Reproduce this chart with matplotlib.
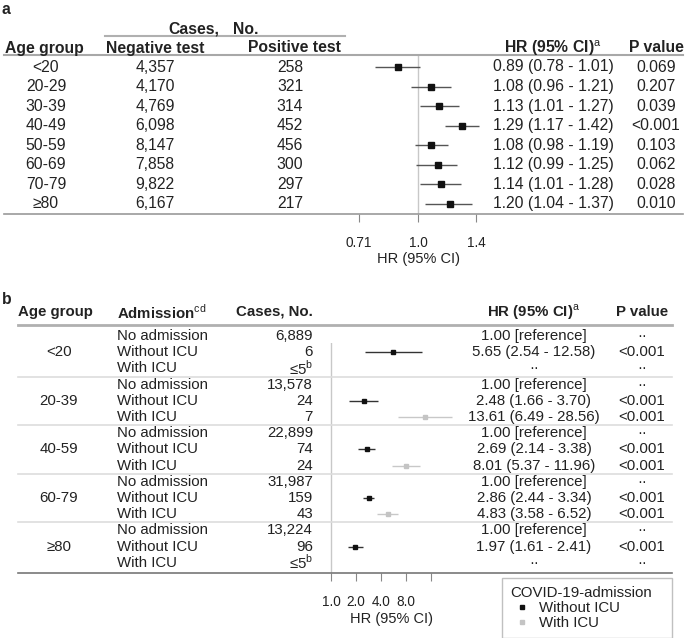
import matplotlib.pyplot as plt
import numpy as np
from matplotlib.lines import Line2D
from matplotlib.ticker import NullLocator

plt.rcParams['font.family'] = ['Liberation Sans', 'DejaVu Sans']
plt.rcParams['mathtext.fontset'] = 'custom'
plt.rcParams['mathtext.rm'] = 'Liberation Sans'

# Panel a data
ages_a = ['<20', '20-29', '30-39', '40-49', '50-59', '60-69', '70-79', '≥80']
neg_a = ['4,357', '4,170', '4,769', '6,098', '8,147', '7,858', '9,822', '6,167']
pos_a = ['258', '321', '314', '452', '456', '300', '297', '217']
hr_a = [0.89, 1.08, 1.13, 1.29, 1.08, 1.12, 1.14, 1.20]
lo_a = [0.78, 0.96, 1.01, 1.17, 0.98, 0.99, 1.01, 1.04]
hi_a = [1.01, 1.21, 1.27, 1.42, 1.19, 1.25, 1.28, 1.37]
p_a = ['0.069', '0.207', '0.039', '<0.001', '0.103', '0.062', '0.028', '0.010']
ticks_a = [0.71, 1.0, 1.4]
ticklabels_a = ['0.71', '1.0', '1.4']

# Panel b data
groups_b = ['<20', '20-39', '40-59', '60-79', '≥80']
adm_types = ['No admission', 'Without ICU', 'With ICU']
cases_b = [['6,889', '6', '≤5$^{b}$'],
           ['13,578', '24', '7'],
           ['22,899', '74', '24'],
           ['31,987', '159', '43'],
           ['13,224', '96', '≤5$^{b}$']]
hr_wo = [5.65, 2.48, 2.69, 2.86, 1.97]
lo_wo = [2.54, 1.66, 2.14, 2.44, 1.61]
hi_wo = [12.58, 3.70, 3.38, 3.34, 2.41]
hr_w = [np.nan, 13.61, 8.01, 4.83, np.nan]
lo_w = [np.nan, 6.49, 5.37, 3.58, np.nan]
hi_w = [np.nan, 28.56, 11.96, 6.52, np.nan]
p_wo = ['<0.001', '<0.001', '<0.001', '<0.001', '<0.001']
p_w = ['··', '<0.001', '<0.001', '<0.001', '··']
ticks_b = [1, 2, 4, 8, 16]
ticklabels_b = ['1.0', '2.0', '4.0', '8.0', '']

W, H = 685, 638
fig = plt.figure(figsize=(W / 100, H / 100), dpi=100)
TXT = '#222222'
FS_A = 11.3
FS_B = 10.8


def fx(x):
    return x / W


def fy(y):
    return 1 - y / H


def put(x, y, s, ha='center', size=FS_A, **kw):
    fig.text(fx(x), fy(y), s, ha=ha, va='center', fontsize=size, color=TXT, **kw)


def hline(y, x0, x1, color, lw):
    fig.add_artist(Line2D([fx(x0), fx(x1)], [fy(y), fy(y)], color=color, lw=lw,
                          transform=fig.transFigure))


def fmt_hr(h, l, u):
    return f'{h:.2f} ({l:.2f} - {u:.2f})'


def forest_axes(x0, x1, y0, y1, x_ref, px_per_ln, row0, row_h):
    ax = fig.add_axes([fx(x0), fy(y1), fx(x1) - fx(x0), fy(y0) - fy(y1)])
    ax.set_xscale('log')
    ax.set_xlim(np.exp((x0 - x_ref) / px_per_ln), np.exp((x1 - x_ref) / px_per_ln))
    ax.set_ylim((y1 - row0) / row_h, (y0 - row0) / row_h)
    for s in ax.spines.values():
        s.set_visible(False)
    ax.set_facecolor('none')
    ax.yaxis.set_visible(False)
    ax.axvline(1.0, color='#c8c8c8', lw=1, zorder=0)
    return ax


# ---------------- panel a ----------------
put(2, 10, 'a', ha='left', weight='bold')
put(168, 29, 'Cases,', ha='left', weight='bold')
put(233, 29, 'No.', ha='left', weight='bold')
hline(36, 105, 345, '#b0b0b0', 1.5)
put(5, 48, 'Age group', ha='left', weight='bold')
put(155, 48, 'Negative test', weight='bold')
put(294, 48, 'Positive test', weight='bold')
put(553, 48, r'HR (95% CI)$^{\mathrm{a}}$', weight='bold')
put(656, 48, 'P value', weight='bold')
hline(55, 4, 683, '#a8a8a8', 1.5)
hline(214, 4, 683, '#999999', 1.2)

row0_a, rh_a = 67, 19.57
for i in range(len(ages_a)):
    y = row0_a + rh_a * i
    put(46, y, ages_a[i])
    put(155, y, neg_a[i])
    put(290, y, pos_a[i])
    put(553, y, fmt_hr(hr_a[i], lo_a[i], hi_a[i]))
    put(656, y, p_a[i])

ax_a = forest_axes(345, 500, 55, 214, 418, 173, row0_a, rh_a)
rows_a = np.arange(len(hr_a))
ax_a.hlines(rows_a, lo_a, hi_a, color='#555555', lw=1)
ax_a.plot(hr_a, rows_a, 's', color='#111111', ms=3.8)
ax_a.set_xticks(ticks_a, ticklabels_a)
ax_a.xaxis.set_minor_locator(NullLocator())
ax_a.tick_params(axis='x', length=6, width=0.8, color='#888888', labelsize=9.8,
                 pad=10, labelcolor=TXT)
put(418, 259, 'HR (95% CI)', size=10.5)

# ---------------- panel b ----------------
put(2, 299, 'b', ha='left', weight='bold')
put(18, 312, 'Age group', ha='left', weight='bold', size=FS_B)
put(117, 312, r'Admission$^{\mathrm{cd}}$', ha='left', weight='bold', size=FS_B)
put(313, 312, 'Cases, No.', ha='right', weight='bold', size=FS_B)
put(534, 312, r'HR (95% CI)$^{\mathrm{a}}$', weight='bold', size=FS_B)
put(642, 312, 'P value', weight='bold', size=FS_B)
hline(325, 18, 672, '#b0b0b0', 2)

row0_b, rh_b = 336, 16.2
for g in range(len(groups_b)):
    base = 3 * g
    put(59, row0_b + rh_b * (base + 1), groups_b[g], size=FS_B)
    hr_txt = ['1.00 [reference]', fmt_hr(hr_wo[g], lo_wo[g], hi_wo[g]),
              '··' if np.isnan(hr_w[g]) else fmt_hr(hr_w[g], lo_w[g], hi_w[g])]
    p_txt = ['··', p_wo[g], p_w[g]]
    for k in range(3):
        y = row0_b + rh_b * (base + k)
        put(117, y, adm_types[k], ha='left', size=FS_B)
        put(313, y, cases_b[g][k].replace('$^{b}$', r'$^{\mathrm{b}}$'), ha='right', size=FS_B)
        put(534, y, hr_txt[k], size=FS_B)
        put(642, y, p_txt[k], size=FS_B)
    if g > 0:
        hline(row0_b + rh_b * (base - 0.5), 18, 672, '#dddddd', 1.2)
hline(573, 18, 672, '#777777', 1.2)

ax_b = forest_axes(320, 470, 343, 573, 331, 36, row0_b, rh_b)
rows_wo = np.arange(len(groups_b)) * 3 + 1
rows_w = np.arange(len(groups_b)) * 3 + 2
ax_b.hlines(rows_wo, lo_wo, hi_wo, color='#333333', lw=1)
ax_b.hlines(rows_w, lo_w, hi_w, color='#c8c8c8', lw=1)
ax_b.plot(hr_wo, rows_wo, 's', color='#111111', ms=3.5, label='Without ICU')
ax_b.plot(hr_w, rows_w, 's', color='#c4c4c4', ms=3.5, label='With ICU')
ax_b.set_xticks(ticks_b, ticklabels_b)
ax_b.xaxis.set_minor_locator(NullLocator())
ax_b.tick_params(axis='x', length=6, width=0.8, color='#888888', labelsize=9.8,
                 pad=10, labelcolor=TXT)
put(391, 619, 'HR (95% CI)', size=10.5)

handles, labels = ax_b.get_legend_handles_labels()
leg = fig.legend(handles, labels, loc='upper left',
                 bbox_to_anchor=(fx(502), fy(636), fx(672) - fx(502), fy(578) - fy(636)),
                 mode='expand', frameon=True, fancybox=False, edgecolor='#c0c0c0',
                 framealpha=1, title='COVID-19-admission', alignment='left',
                 fontsize=FS_B, title_fontsize=FS_B, handlelength=1.6,
                 handletextpad=0.3, borderaxespad=0, labelspacing=0.05, borderpad=0.55)
leg.get_frame().set_linewidth(1)
for t in leg.get_texts():
    t.set_color(TXT)
leg.get_title().set_color(TXT)

fig.savefig('out.png', dpi=100)
